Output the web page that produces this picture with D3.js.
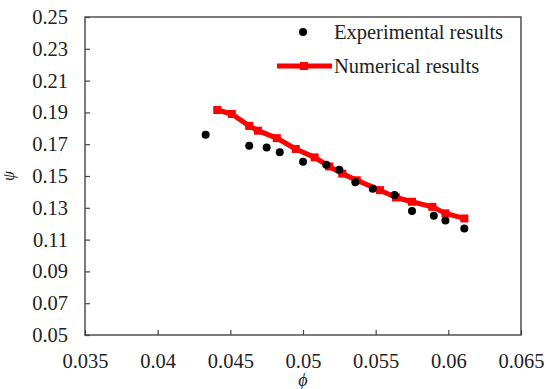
<!DOCTYPE html>
<html>
<head>
<meta charset="utf-8">
<script src="https://cdn.jsdelivr.net/npm/d3@7"></script>
<style>
  body { margin: 0; background: #fff; }
  svg text { font-family: "Liberation Serif", "Times New Roman", serif; fill: #222; }
</style>
</head>
<body>
<svg id="chart" width="546" height="389"></svg>
<script>
// Experimental results (black dots)
var expPhi = [0.0433, 0.0463, 0.0475, 0.0484, 0.0500, 0.0516, 0.0525, 0.0536, 0.0548, 0.0563, 0.0575, 0.0590, 0.0598, 0.0611];
var expPsi = [0.176, 0.169, 0.168, 0.165, 0.159, 0.157, 0.154, 0.146, 0.142, 0.138, 0.128, 0.125, 0.122, 0.117];

// Numerical results (red line)
var numPhi = [0.0441, 0.0451, 0.0463, 0.0469, 0.0482, 0.0495, 0.0508, 0.0518, 0.0527, 0.0537, 0.0553, 0.0564, 0.0575, 0.0589, 0.0598, 0.0611];
var numPsi = [0.1915, 0.189, 0.1815, 0.1785, 0.1738, 0.167, 0.1617, 0.156, 0.1515, 0.1473, 0.1411, 0.1365, 0.1338, 0.1306, 0.1265, 0.1233];

var xTicks = [0.035, 0.04, 0.045, 0.05, 0.055, 0.06, 0.065];
var yTicks = [0.05, 0.07, 0.09, 0.11, 0.13, 0.15, 0.17, 0.19, 0.21, 0.23, 0.25];

var seriesNames = ['Experimental results', 'Numerical results'];

var margin = {top: 17, right: 25, bottom: 54, left: 85};
var width = 546 - margin.left - margin.right;
var height = 389 - margin.top - margin.bottom;
var fontSize = 20.5;

var svg = d3.select('#chart');
var g = svg.append('g')
  .attr('transform', 'translate(' + margin.left + ',' + margin.top + ')');

var x = d3.scaleLinear().domain([0.035, 0.065]).range([0, width]);
var y = d3.scaleLinear().domain([0.05, 0.25]).range([height, 0]);

// Axes, ticks pointing inward
var xAxis = d3.axisBottom(x)
  .tickValues(xTicks)
  .tickSizeInner(-5)
  .tickSizeOuter(0)
  .tickPadding(18)
  .tickFormat(function (d) { return String(+d.toFixed(3)); });

var yAxis = d3.axisLeft(y)
  .tickValues(yTicks)
  .tickSizeInner(-5)
  .tickSizeOuter(0)
  .tickPadding(17)
  .tickFormat(d3.format('.2f'));

var gx = g.append('g')
  .attr('transform', 'translate(0,' + height + ')')
  .call(xAxis);
var gy = g.append('g').call(yAxis);

[gx, gy].forEach(function (ax) {
  ax.selectAll('.domain').remove();
  ax.selectAll('line').attr('stroke', '#444').attr('stroke-width', 1.2);
  ax.selectAll('text').attr('font-size', fontSize).attr('fill', '#222');
});

// Frame
g.append('rect')
  .attr('width', width)
  .attr('height', height)
  .attr('fill', 'none')
  .attr('stroke', '#444')
  .attr('stroke-width', 1.4);

// Axis titles
g.append('text')
  .attr('x', width / 2)
  .attr('y', height + 51)
  .attr('text-anchor', 'middle')
  .attr('font-size', 18)
  .attr('font-style', 'italic')
  .text('\u03d5');

g.append('text')
  .attr('transform', 'translate(' + (-71) + ',' + (y(0.15)) + ') rotate(-90)')
  .attr('text-anchor', 'middle')
  .attr('font-size', 16)
  .attr('font-style', 'italic')
  .text('\u03c8');

// Numerical line
var numData = numPhi.map(function (p, i) { return {x: p, y: numPsi[i]}; });
var line = d3.line()
  .x(function (d) { return x(d.x); })
  .y(function (d) { return y(d.y); });

g.append('path')
  .datum(numData)
  .attr('fill', 'none')
  .attr('stroke', '#ff0000')
  .attr('stroke-width', 5)
  .attr('stroke-linejoin', 'round')
  .attr('d', line);

g.selectAll('.num-mark')
  .data(numData)
  .enter()
  .append('rect')
  .attr('class', 'num-mark')
  .attr('x', function (d) { return x(d.x) - 4; })
  .attr('y', function (d) { return y(d.y) - 4; })
  .attr('width', 8)
  .attr('height', 8)
  .attr('fill', '#ff0000');

// Experimental dots
var expData = expPhi.map(function (p, i) { return {x: p, y: expPsi[i]}; });
g.selectAll('.exp-dot')
  .data(expData)
  .enter()
  .append('circle')
  .attr('class', 'exp-dot')
  .attr('cx', function (d) { return x(d.x); })
  .attr('cy', function (d) { return y(d.y); })
  .attr('r', 4)
  .attr('fill', '#000');

// Legend
var legend = svg.append('g');
legend.append('circle')
  .attr('cx', 303).attr('cy', 32).attr('r', 4).attr('fill', '#000');
legend.append('text')
  .attr('x', 334).attr('y', 32).attr('dy', '0.35em')
  .attr('font-size', fontSize)
  .text(seriesNames[0]);

legend.append('line')
  .attr('x1', 277).attr('x2', 332).attr('y1', 66).attr('y2', 66)
  .attr('stroke', '#ff0000').attr('stroke-width', 5);
legend.append('rect')
  .attr('x', 300).attr('y', 62).attr('width', 8).attr('height', 8)
  .attr('fill', '#ff0000');
legend.append('text')
  .attr('x', 334).attr('y', 66).attr('dy', '0.35em')
  .attr('font-size', fontSize)
  .text(seriesNames[1]);
</script>
</body>
</html>
